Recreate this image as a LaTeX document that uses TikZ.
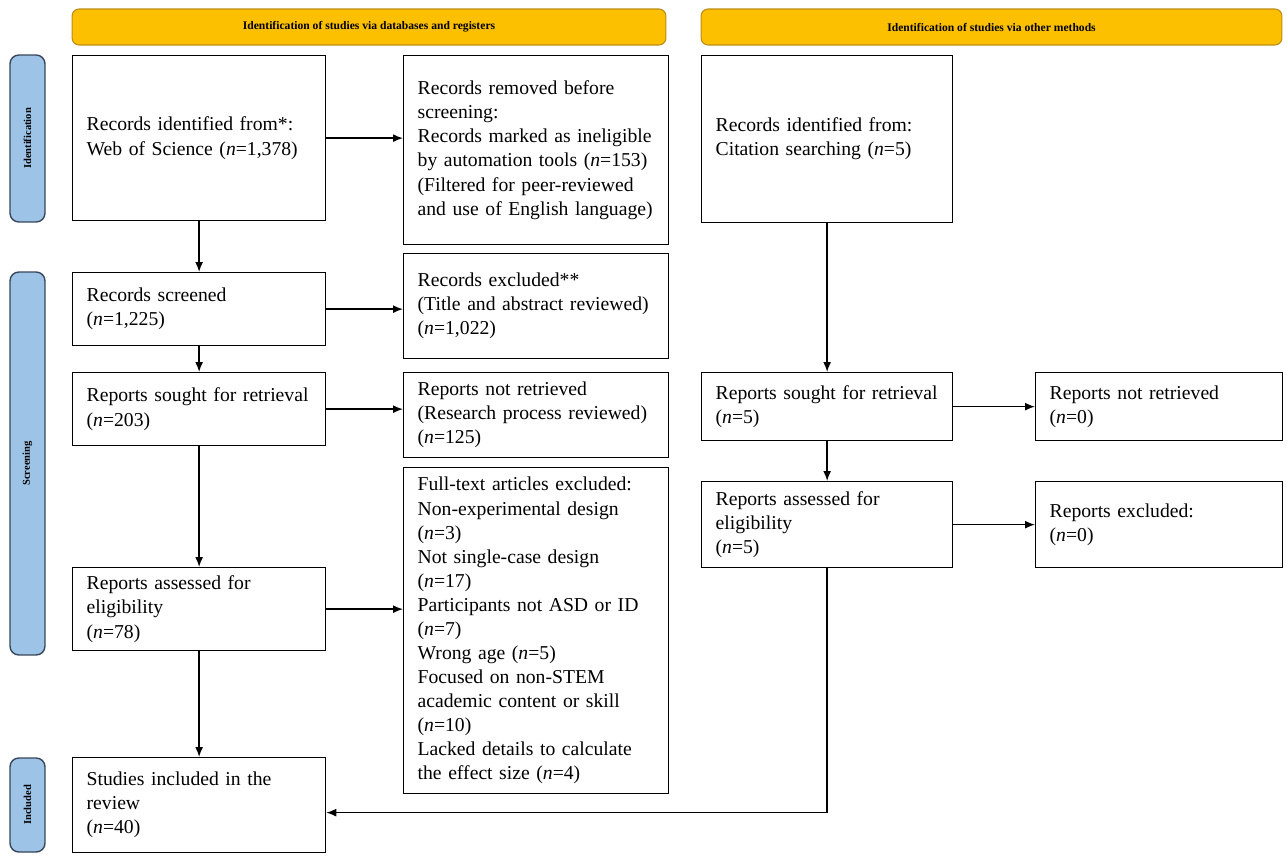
\documentclass[tikz,border=0pt]{standalone}
\usepackage{fontspec}
\setmainfont{Liberation Serif}
\usetikzlibrary{arrows.meta}
\definecolor{headgold}{RGB}{252,192,0}
\definecolor{headedge}{RGB}{190,140,20}
\definecolor{phaseblue}{RGB}{157,195,230}
\definecolor{phaseedge}{RGB}{55,70,90}
\begin{document}
\begin{tikzpicture}[x=0.02cm,y=-0.02cm,>={Latex[length=2mm,width=1.6mm]},
        box/.style={draw,line width=0.75pt,anchor=north west,align=left,inner xsep=0.28cm,
            font=\fontsize{11.2}{13.7}\selectfont},
        head/.style={draw=headedge,fill=headgold,line width=0.6pt,rounded corners=4pt,
            minimum height=0.72cm,font=\fontsize{6.6}{8}\selectfont\bfseries},
        phase/.style={draw=phaseedge,fill=phaseblue,line width=0.8pt,rounded corners=5pt,
            rotate=90,minimum height=0.7cm,font=\fontsize{6}{7}\selectfont\bfseries},
        flow/.style={->,line width=0.85pt}]

        \useasboundingbox (0,0) rectangle (1287,858);

        \node[head,minimum width=11.88cm] (hdb) at (369,27) {Identification of studies via databases and registers};
        \node[head,minimum width=11.62cm] (hoth) at (991.5,27) {Identification of studies via other methods};

        \node[phase,minimum width=3.34cm] (pid) at (27.5,138.5) {Identification};
        \node[phase,minimum width=7.66cm] (pscr) at (27.5,463.5) {Screening};
        \node[phase,minimum width=1.88cm] (pinc) at (27.5,805) {Included};

        \node[box,text width=4.5cm,minimum height=3.3cm] (ident) at (72,55)
            {Records identified from*:\\Web of Science (\emph{n}=1,378)};
        \node[box,text width=4.74cm,minimum height=3.78cm] (removed) at (403,55)
            {Records removed before\\screening:\\Records marked as ineligible\\by automation tools (\emph{n}=153)\\(Filtered for peer-reviewed\\and use of English language)};
        \node[box,text width=4.5cm,minimum height=1.46cm] (screened) at (72,272)
            {Records screened\\(\emph{n}=1,225)};
        \node[box,text width=4.74cm,minimum height=2.1cm] (excluded) at (403,253)
            {Records excluded**\\(Title and abstract reviewed)\\(\emph{n}=1,022)};
        \node[box,text width=4.5cm,minimum height=1.46cm] (sought) at (72,372)
            {Reports sought for retrieval\\(\emph{n}=203)};
        \node[box,text width=4.74cm,minimum height=1.7cm] (notret) at (403,372)
            {Reports not retrieved\\(Research process reviewed)\\(\emph{n}=125)};
        \node[box,text width=4.5cm,minimum height=1.66cm] (assessed) at (72,567)
            {Reports assessed for\\eligibility\\(\emph{n}=78)};
        \node[box,text width=4.74cm,minimum height=6.52cm] (fulltext) at (403,467)
            {Full-text articles excluded:\\Non-experimental design\\(\emph{n}=3)\\Not single-case design\\(\emph{n}=17)\\Participants not ASD or ID\\(\emph{n}=7)\\Wrong age (\emph{n}=5)\\Focused on non-STEM\\academic content or skill\\(\emph{n}=10)\\Lacked details to calculate\\the effect size (\emph{n}=4)};
        \node[box,text width=4.5cm,minimum height=1.9cm] (included) at (72,757)
            {Studies included in the\\review\\(\emph{n}=40)};

        \node[box,text width=4.46cm,minimum height=3.34cm] (citation) at (701,55)
            {Records identified from:\\Citation searching (\emph{n}=5)};
        \node[box,text width=4.46cm,minimum height=1.36cm] (osought) at (701,372)
            {Reports sought for retrieval\\(\emph{n}=5)};
        \node[box,text width=4.38cm,minimum height=1.36cm] (onotret) at (1035,372)
            {Reports not retrieved\\(\emph{n}=0)};
        \node[box,text width=4.46cm,minimum height=1.72cm] (oassessed) at (701,481)
            {Reports assessed for\\eligibility\\(\emph{n}=5)};
        \node[box,text width=4.38cm,minimum height=1.72cm] (oexcluded) at (1035,481)
            {Reports excluded:\\(\emph{n}=0)};

        \draw[flow] (ident.east) -- (ident.east -| removed.west);
        \draw[flow] (ident) -- (screened);
        \draw[flow] (screened.east) -- (screened.east -| excluded.west);
        \draw[flow] (screened) -- (sought);
        \draw[flow] (sought.east) -- (sought.east -| notret.west);
        \draw[flow] (sought) -- (assessed);
        \draw[flow] (assessed.east) -- (assessed.east -| fulltext.west);
        \draw[flow] (assessed) -- (included);
        \draw[flow] (citation) -- (osought);
        \draw[flow] (osought) -- (onotret);
        \draw[flow] (osought) -- (oassessed);
        \draw[flow] (oassessed) -- (oexcluded);
        \draw[flow] (oassessed.south) |- ([yshift=-0.15cm]included.east);
    \end{tikzpicture}
\end{document}
